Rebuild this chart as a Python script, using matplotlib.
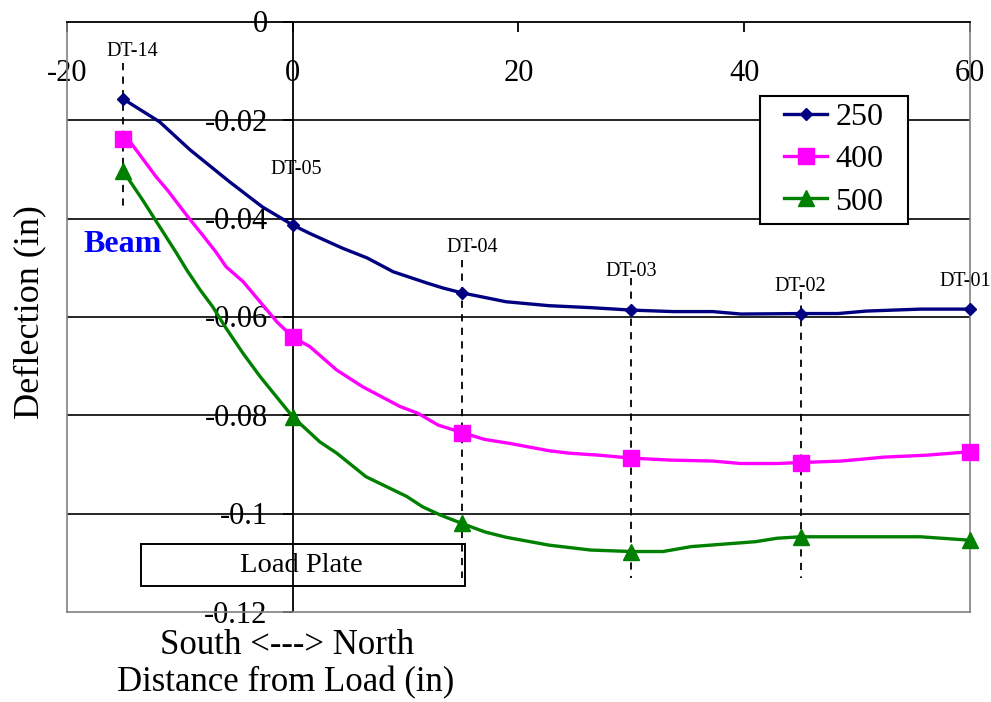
import numpy as np
import matplotlib.pyplot as plt
from matplotlib.transforms import offset_copy

plt.rcParams['font.family'] = ['Liberation Serif', 'DejaVu Serif']

# gauge positions (in) and their names
sensor_x = [-15, 0, 15, 30, 45, 60]
sensor_names = ['DT-14', 'DT-05', 'DT-04', 'DT-03', 'DT-02', 'DT-01']

# deflection traces for each load level
x250 = [-15, -11.8, -9.1, -5.6, -2.7, 0, 1.5, 4.4, 6.6, 8.9, 11.9, 13.3, 15,
        18.9, 22.7, 26.4, 30, 33.7, 37.2, 39.7, 45, 48.3, 50.8, 55.6, 60]
y250 = [-0.0157, -0.0203, -0.026, -0.0325, -0.0376, -0.0413, -0.043, -0.046, -0.048,
        -0.0508, -0.0531, -0.0541, -0.0551, -0.0569, -0.0577, -0.0581, -0.0586,
        -0.0589, -0.0589, -0.0594, -0.0593, -0.0593, -0.0588, -0.0584, -0.0584]

x400 = [-15, -14.3, -12.1, -11.1, -9.3, -8.1, -6.8, -5.9, -4.4, -2.9, -1.4, 0, 1.5,
        3.9, 6.2, 9.5, 11.1, 12.9, 15, 17, 19.2, 22.7, 24.5, 27.1, 30, 33.4, 37.2,
        39.7, 42.9, 45, 48.6, 52.4, 56.2, 60]
y400 = [-0.0237, -0.0247, -0.0315, -0.0342, -0.0396, -0.043, -0.0468, -0.0498,
        -0.0528, -0.0569, -0.061, -0.0641, -0.066, -0.0708, -0.0742, -0.0782,
        -0.0796, -0.082, -0.0835, -0.0849, -0.0857, -0.0872, -0.0877, -0.0881,
        -0.0887, -0.0891, -0.0893, -0.0898, -0.0898, -0.0896, -0.0893, -0.0885,
        -0.0881, -0.0874]

x500 = [-15, -13.3, -11.8, -10.3, -9.4, -8.2, -7.1, -5.9, -4.4, -2.9, -1.7, 0, 2.4,
        3.9, 6.5, 10.1, 11.5, 13.1, 15, 17, 18.9, 22.7, 26.4, 30, 32.8, 35.3, 41,
        42.9, 45, 55.6, 60]
y500 = [-0.0304, -0.0362, -0.0416, -0.047, -0.0504, -0.0545, -0.0579, -0.0623,
        -0.0674, -0.0721, -0.0755, -0.0803, -0.0854, -0.0877, -0.0925, -0.0965,
        -0.0986, -0.1003, -0.102, -0.1037, -0.1048, -0.1064, -0.1074, -0.1077,
        -0.1077, -0.1067, -0.1057, -0.105, -0.1047, -0.1047, -0.1054]

xticks = [-20, 0, 20, 40, 60]
yticks = [0, -0.02, -0.04, -0.06, -0.08, -0.1, -0.12]

fig = plt.figure(figsize=(9.91, 7.02), dpi=100)
ax = fig.add_axes([0.0676, 0.1282, 0.9112, 0.8405])
ax.set_xlim(-20, 60)
ax.set_ylim(-0.12, 0)
ax.set_xticks([])
ax.set_yticks([])
for s in ['left', 'right', 'bottom']:
    ax.spines[s].set_color('#808080')
    ax.spines[s].set_linewidth(1.2)
ax.spines['top'].set_color('black')
ax.spines['top'].set_linewidth(1.3)

# horizontal gridlines and the y axis at x = 0
for yv in yticks[1:-1]:
    ax.axhline(yv, color='black', lw=1.2, zorder=1)
ax.axvline(0, color='black', lw=1.3, zorder=1)

# tick labels: y labels left of x = 0, x labels under the top axis
ylab_tr = offset_copy(ax.transData, fig=fig, x=-25, y=-3, units='dots')
for yv in yticks:
    ax.text(0, yv, '%g' % yv, transform=ylab_tr, ha='right', va='center',
            fontsize=22, clip_on=False, zorder=2)
    ax.plot([0], [yv], marker=0, color='black', ms=7, mew=1.3, clip_on=False)
xlab_tr = offset_copy(ax.transData, fig=fig, x=0, y=-52, units='dots')
for xv in xticks:
    ax.text(xv, 0, '%g' % xv, transform=xlab_tr, ha='center', va='center',
            fontsize=22, clip_on=False, zorder=2)
    ax.plot([xv], [0], marker=3, color='black', ms=7, mew=1.3, clip_on=False)

# dashed gauge lines
gauge_lines = [(-15, -0.0084, -0.0386), (15, -0.0484, -0.1131),
               (30, -0.052, -0.1131), (45, -0.055, -0.1131)]
for gx, y0, y1 in gauge_lines:
    ax.plot([gx, gx], [y0, y1], color='black', lw=1.3, ls=(0, (4, 3.5)), zorder=2)

label_y = [-0.0061, -0.0301, -0.0458, -0.0508, -0.0537, -0.0527]
label_dx = [0.8, 0.3, 0.9, 0.0, 0.0, -0.4]
for gx, name, ly, dx in zip(sensor_x, sensor_names, label_y, label_dx):
    ax.text(gx + dx, ly, name, ha='center', va='center', fontsize=14.5,
            clip_on=False, zorder=2)

series = [(x250, y250, '250', '#000080', 'D', 6.5),
          (x400, y400, '400', '#FF00FF', 's', 11),
          (x500, y500, '500', '#008000', '^', 12)]
for xs, ys, name, col, mk, ms in series:
    idx = [i for i, v in enumerate(xs) if v in sensor_x]
    ax.plot(xs, ys, color=col, lw=2.4, marker=mk, ms=ms, markevery=idx,
            mec=col, mfc=col, label=name, zorder=4, clip_on=False)

# load plate outline
ax.add_patch(plt.Rectangle((-13.4, -0.1147), 28.7, 0.0085, fill=False,
                           ec='black', lw=1.4, zorder=3))
ax.text(0.8, -0.1105, 'Load Plate', ha='center', va='center', fontsize=20.5, zorder=3)

ax.text(-18.5, -0.0452, 'Beam', color='#0000FF', fontweight='bold', fontsize=23,
        ha='left', va='center')

# legend box drawn separately so the side padding can be wider
ax.add_patch(plt.Rectangle((0.767, 0.658), 0.164, 0.217, transform=ax.transAxes,
                           fill=True, fc='white', ec='black', lw=1.5, zorder=5))
leg = ax.legend(loc='center', bbox_to_anchor=(0.849, 0.7665), fontsize=23,
                frameon=False, handlelength=1.35, handletextpad=0.25,
                labelspacing=0.4, borderpad=0, borderaxespad=0)
leg.set_zorder(6)

fig.text(0.030, 0.5556, 'Deflection (in)', rotation=90, ha='center', va='center',
         fontsize=26)
fig.text(0.290, 0.081, 'South <---> North', ha='center', va='center', fontsize=25)
fig.text(0.288, 0.027, 'Distance from Load (in)', ha='center', va='center', fontsize=25)

fig.savefig('out.png', dpi=100)
